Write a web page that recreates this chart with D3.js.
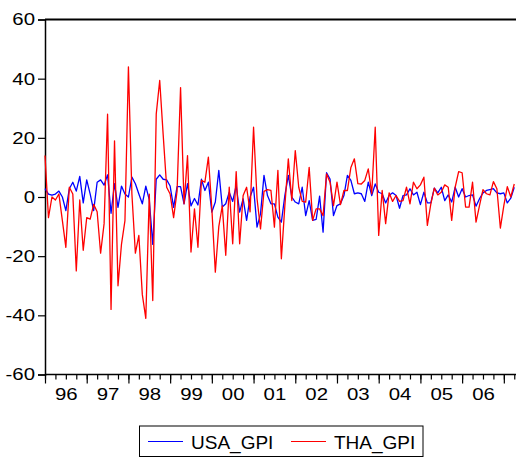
<!DOCTYPE html>
<html>
<head>
<meta charset="utf-8">
<script src="https://cdn.jsdelivr.net/npm/d3@7"></script>
<style>
  body { margin: 0; background: #fff; }
  svg { display: block; font-family: "Liberation Sans", Arial, sans-serif; }
</style>
</head>
<body>
<svg id="chart" width="516" height="458"></svg>
<script>
// monthly series, 1996m01 .. 2007m04
const usaGpi = [
  2.8, 1, 0.6, 1, 2, 0, -4.6, 2.8, 5, 2, 7, -2,
  5.8, 1, -4.6, 5, 5.8, 4, 7.5, -5.5, 4.5, -3.5, 3.7, 1,
  0, 6.7, 4.5, 1, -2.3, 3.7, -1, -16, 6, 7.5, 6, 5.8,
  3.7, -3.5, 3.5, 3.5, -2.3, 4.5, -3, -0.5, -2.7, 6, 2.2, 5,
  -5.1, -1.7, 9, -3.4, -2.3, 1.6, -1.5, 3.9, -5.1, -0.6, -7.9, 0,
  3.3, -10.2, -5.7, 7.3, 0.5, -2.3, -2.3, -6.8, -8.5, 0.5, 7.3, 0,
  -1.7, -2.3, 3.3, -6.3, -1.2, -7.9, -7.6, 0.3, -11.9, 8.2, 6.1, -6.3,
  -2.9, -2.3, 0.5, 7.3, 5.6, 1.1, 1.4, 1.1, -1.5, 5, 0.5, 4.4,
  1.6, 1.1, -2, 0.5, 1.4, 0.5, -3.8, 0.5, 0.7, 2.8, 0.7, 1.6,
  -2.6, 1.6, -2, -2, 3, 1.4, 3.3, -1.2, 0.7, -1.7, 3.3, 0,
  2.8, 0, 0.5, 0.7, -3.1, -0.6, 1.4, 2.2, 2.5, 2.8, 1.4, 1.1,
  1.4, -2, -0.4, 3.3
]
const thaGpi = [
  14, -7, 0, -1, 1, -8, -17, 3.3, 1, -25, -1, -18,
  -7, -7.5, -2.5, -5, -19, -9, 28, -38, 19, -30, -16, -8,
  44, 1, -19, -13, -33, -41, 1, -35, 28, 39.4, 21, 3.3,
  1, -7, 2, 37, -2.3, 14, -18.6, -4, -17, 5.6, 5, 13.5,
  -4, -25.4, -10, -3, -19.7, 3.3, -15.8, 8.6, -15.8, 0.5, 3.3, -5,
  23.6, -0.6, -10.8, 1.9, 2.5, 2.2, -10.2, 9, -20.9, -3, 12.9, -1.2,
  15.7, 3.3, -1.5, -1.7, 10, -7.9, -4, -4, -6.3, 7.8, 5, -2.9,
  5, -2.6, 2.2, 2.2, 10, 12.9, 4.5, 4.4, 5.6, 9.5, 1.1, 23.6,
  -13, 2.2, -9, 1.4, -1.5, 0.5, -1.5, -1.2, 3.3, -2.3, 5, 2.8,
  4.1, 6.7, -9.6, -2.3, 3, 0.7, 1.6, 4.1, 3.3, -7.9, 3.3, 8.6,
  8.2, -3.4, -3.4, 5, -8.5, -2.9, 2.5, 1.1, 0.7, 5.2, 2.8, -10.5,
  -2.9, 3.5, 0, 4.4
]
const yearLabels = ["96", "97", "98", "99", "00", "01", "02", "03", "04", "05", "06"]
const yTicks = [-60, -40, -20, 0, 20, 40, 60]
const seriesNames = ["USA_GPI", "THA_GPI"]
const seriesColors = ["#0000ff", "#ff0000"]

const svg = d3.select("#chart")
const plotLeft = 45, plotRight = 516, plotTop = 19.5, plotBottom = 374.5
const stretch = 1.2  // glyphs in the picture are a bit wider than Arial

const x = d3.scaleLinear().domain([0, usaGpi.length - 0.5]).range([plotLeft, plotRight])
const y = d3.scaleLinear().domain([-60, 60]).range([plotBottom, plotTop])

// top frame line
svg.append("line")
    .attr("x1", plotLeft).attr("x2", plotRight)
    .attr("y1", plotTop).attr("y2", plotTop)
    .attr("stroke", "black")
    .attr("stroke-width", 2)

// y axis (plain hyphen for negatives, like the original)
const yAxis = svg.append("g")
    .attr("transform", `translate(${plotLeft},0)`)
    .call(d3.axisLeft(y).tickValues(yTicks).tickSize(7).tickPadding(3).tickFormat(d => String(d)))
yAxis.select(".domain").attr("stroke-width", 1.5)
yAxis.selectAll(".tick line").attr("stroke-width", 1.2)
yAxis.selectAll(".tick text")
    .attr("font-size", "17px")
    .attr("fill", "#000")
    .attr("x", -10 / stretch)
    .attr("transform", `scale(${stretch},1)`)

// x axis: minor quarter ticks, major year ticks, then year labels
const quarterTicks = d3.range(0, usaGpi.length, 3)
const yearTicks = d3.range(0, usaGpi.length, 12)
const labelPos = yearLabels.map((d, i) => i * 12 + 6)

const xMinor = svg.append("g")
    .attr("transform", `translate(0,${plotBottom})`)
    .call(d3.axisBottom(x).tickValues(quarterTicks).tickSize(5).tickFormat(""))
xMinor.select(".domain").attr("stroke-width", 1.5).attr("d", `M${plotLeft},0H${plotRight}`)
xMinor.selectAll(".tick line").attr("stroke-width", 1.2)

const xMajor = svg.append("g")
    .attr("transform", `translate(0,${plotBottom})`)
    .call(d3.axisBottom(x).tickValues(yearTicks).tickSize(9).tickFormat(""))
xMajor.select(".domain").remove()
xMajor.selectAll(".tick line").attr("stroke-width", 1.2)

const xLabels = svg.append("g")
    .attr("transform", `translate(0,${plotBottom})`)
    .call(d3.axisBottom(x).tickValues(labelPos).tickSize(0).tickPadding(13.5)
        .tickFormat((d, i) => yearLabels[i]))
xLabels.select(".domain").remove()
xLabels.selectAll(".tick text")
    .attr("font-size", "17px")
    .attr("fill", "#000")
    .attr("transform", `scale(${stretch},1)`)

// series lines
const line = d3.line()
    .x((d, i) => x(i))
    .y(d => y(d))

;[usaGpi, thaGpi].forEach((s, k) => {
    svg.append("path")
        .datum(s)
        .attr("fill", "none")
        .attr("stroke", seriesColors[k])
        .attr("stroke-width", 1.3)
        .attr("stroke-linejoin", "round")
        .attr("d", line)
})

// legend
const legend = svg.append("g")
legend.append("rect")
    .attr("x", 139.5).attr("y", 426)
    .attr("width", 283.5).attr("height", 30.5)
    .attr("fill", "white")
    .attr("stroke", "black")
    .attr("stroke-width", 1)
const legendX = [148, 291]
seriesNames.forEach((name, k) => {
    legend.append("line")
        .attr("x1", legendX[k]).attr("x2", legendX[k] + 35)
        .attr("y1", 441.5).attr("y2", 441.5)
        .attr("stroke", seriesColors[k])
        .attr("stroke-width", 1.2)
    legend.append("text")
        .attr("x", legendX[k] + 43)
        .attr("y", 448.5)
        .attr("font-size", "19px")
        .attr("fill", "#000")
        .text(name)
})
</script>
</body>
</html>
